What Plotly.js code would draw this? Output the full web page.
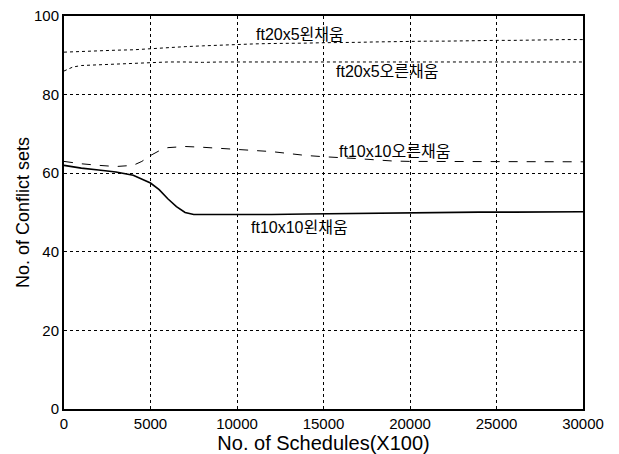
<!DOCTYPE html>
<html>
<head>
<meta charset="utf-8">
<script src="https://cdn.plot.ly/plotly-3.0.1.min.js"></script>
<style>html,body{margin:0;padding:0;background:#fff;}#chart{width:619px;height:454px;}</style>
</head>
<body>
<div id="chart"></div>
<script>
// Data
const seriesNames = ["ft20x5왼채움", "ft20x5오른채움", "ft10x10오른채움", "ft10x10왼채움"];

const xTop = [0, 1000, 2000, 3000, 4000, 5000, 6000, 7000, 8000, 9000, 10000, 11000, 12000, 13000, 14000, 15000, 16000, 17000, 18000, 19000, 20000, 21000, 22000, 23000, 24000, 25000, 26000, 27000, 28000, 29000, 30000];
const yTop20x5L = [90.8, 91.0, 91.2, 91.3, 91.4, 91.7, 92.0, 92.2, 92.4, 92.6, 92.8, 92.9, 93.0, 93.0, 93.1, 93.2, 93.2, 93.3, 93.4, 93.5, 93.5, 93.6, 93.6, 93.7, 93.7, 93.8, 93.8, 93.9, 93.9, 94.0, 94.0];

const x20x5R = [0, 500, 1000, 2000, 3000, 4000, 5000, 6000, 7000, 8000, 9000, 10000, 12000, 14000, 16000, 18000, 20000, 22000, 24000, 26000, 28000, 30000];
const y20x5R = [86.0, 87.0, 87.4, 87.6, 87.8, 88.0, 88.2, 88.3, 88.3, 88.2, 88.3, 88.3, 88.3, 88.4, 88.3, 88.3, 88.4, 88.3, 88.3, 88.4, 88.3, 88.3];

const x10x10R = [0, 500, 1000, 2000, 3000, 4000, 4500, 5000, 5500, 6000, 7000, 8000, 9000, 10000, 11000, 12000, 13000, 14000, 15000, 16000, 17000, 18000, 19000, 20000, 22000, 24000, 26000, 28000, 30000];
const y10x10R = [63.0, 62.7, 62.4, 62.0, 61.7, 62.0, 63.0, 64.5, 65.7, 66.5, 66.8, 66.6, 66.3, 66.0, 65.8, 65.5, 65.0, 64.5, 64.2, 64.0, 63.7, 63.4, 63.1, 63.0, 63.0, 62.9, 63.0, 62.9, 62.9];

const x10x10L = [0, 1000, 2000, 3000, 4000, 4500, 5000, 5500, 6000, 6500, 7000, 7500, 8000, 9000, 10000, 12000, 14000, 16000, 18000, 20000, 22000, 24000, 26000, 28000, 30000];
const y10x10L = [62.0, 61.3, 60.8, 60.3, 59.5, 58.6, 57.5, 55.8, 53.5, 51.5, 50.0, 49.5, 49.5, 49.4, 49.5, 49.5, 49.6, 49.7, 49.8, 50.0, 50.0, 50.1, 50.1, 50.1, 50.2];

const xTicks = [0, 5000, 10000, 15000, 20000, 25000, 30000];
const yTicks = [0, 20, 40, 60, 80, 100];

// Label anchor points (data units)
const labelX = [10960, 15580, 15800, 10670];
const labelY = [95.2, 85.8, 65.6, 46.3];

const lineStyles = [
  {color: '#000', width: 1, dash: 'dot'},
  {color: '#000', width: 1, dash: 'dot'},
  {color: '#000', width: 1, dash: 'dash'},
  {color: '#000', width: 1.6, dash: 'solid'}
];
const xs = [xTop, x20x5R, x10x10R, x10x10L];
const ys = [yTop20x5L, y20x5R, y10x10R, y10x10L];

const traces = xs.map((x, i) => ({
  x: x, y: ys[i], type: 'scatter', mode: 'lines', name: seriesNames[i],
  line: lineStyles[i], showlegend: false, hoverinfo: 'skip'
}));

const annotations = seriesNames.map((t, i) => ({
  x: labelX[i], y: labelY[i], xref: 'x', yref: 'y', text: t,
  showarrow: false, xanchor: 'left', yanchor: 'middle',
  font: {family: 'Liberation Sans, Noto Sans CJK KR, sans-serif', size: 16, color: '#000'}
}));

const axisCommon = {
  showline: true, linecolor: '#000', linewidth: 2, mirror: true,
  showgrid: true, gridcolor: '#000', gridwidth: 1, griddash: 'dot',
  zeroline: false, ticks: '',
  tickfont: {family: 'Liberation Sans, Arial, sans-serif', size: 15, color: '#000'}
};

const layout = {
  width: 619, height: 454,
  margin: {l: 64, r: 36, t: 16, b: 45},
  paper_bgcolor: '#fff', plot_bgcolor: '#fff',
  xaxis: Object.assign({}, axisCommon, {
    range: [0, 30000], tickvals: xTicks, ticktext: xTicks.map(String),
    title: {text: 'No. of Schedules(X100)', standoff: 2,
      font: {family: 'Liberation Sans, Arial, sans-serif', size: 20, color: '#000'}}
  }),
  yaxis: Object.assign({}, axisCommon, {
    range: [0, 100], tickvals: yTicks, ticktext: yTicks.map(String),
    title: {text: 'No. of Conflict sets', standoff: 0,
      font: {family: 'Liberation Sans, Arial, sans-serif', size: 18, color: '#000'}}
  }),
  annotations: annotations
};

Plotly.newPlot('chart', traces, layout, {staticPlot: true, displayModeBar: false});
</script>
</body>
</html>
